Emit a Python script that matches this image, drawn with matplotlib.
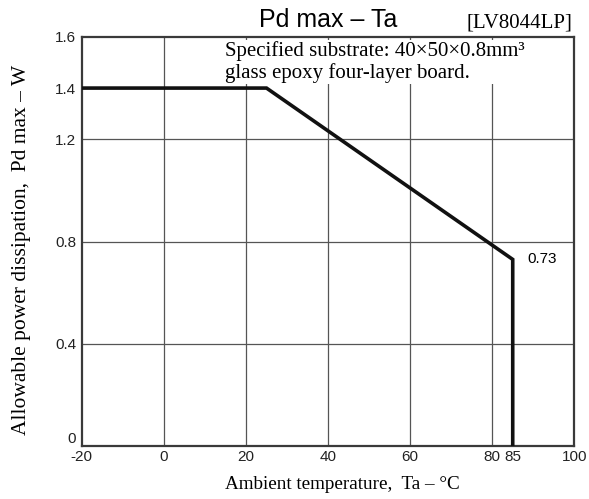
import numpy as np
import matplotlib
matplotlib.use('Agg')
import matplotlib.pyplot as plt

# derating curve
ta = [-20, 25, 85, 85]
pd_max = [1.4, 1.4, 0.73, 0.0]

x_ticks = [-20, 0, 20, 40, 60, 80, 85, 100]
x_tick_labels = ['-20', '0', '20', '40', '60', '80', '85', '100']
y_ticks = [0, 0.4, 0.8, 1.2, 1.4, 1.6]
y_tick_labels = ['0', '0.4', '0.8', '1.2', '1.4', '1.6']
x_grid = [0, 20, 40, 60, 80]
y_grid = [0.4, 0.8, 1.2]

sans = 'Liberation Sans'
serif = 'Liberation Serif'
frame_color = '#3a3a3a'

fig = plt.figure(figsize=(5.89, 4.99), dpi=100)
ax = fig.add_axes([0.139, 0.106, 0.836, 0.820])

for xg in x_grid:
    ax.axvline(xg, color='#555555', lw=0.9, zorder=1)
for yg in y_grid:
    ax.axhline(yg, color='#555555', lw=0.9, zorder=1)

ax.plot(ta, pd_max, color='#111111', lw=2.6, solid_joinstyle='miter', zorder=3)

ax.set_xlim(-20, 100)
ax.set_ylim(0, 1.6)
ax.set_xticks(x_ticks)
ax.set_xticklabels(x_tick_labels, family=sans, fontsize=11)
ax.set_yticks(y_ticks)
ax.set_yticklabels(y_tick_labels, family=sans, fontsize=11)
ax.tick_params(length=0, colors='#222222')
ax.tick_params(axis='x', pad=3)
ax.tick_params(axis='y', pad=4)
ax.get_yticklabels()[0].set_verticalalignment('bottom')

for sp in ax.spines.values():
    sp.set_color(frame_color)
    sp.set_linewidth(1.6)

ax.set_xlabel('Ambient temperature,  Ta – °C', family=serif, fontsize=13.8)
ax.xaxis.set_label_coords(0.53, -0.072)
ax.set_ylabel('Allowable power dissipation,  Pd max – W', family=serif, fontsize=15.5)
ax.yaxis.set_label_coords(-0.104, 0.48)

fig.text(0.558, 0.960, 'Pd max – Ta', family=sans, fontsize=18, ha='center', va='center')
fig.text(0.972, 0.954, '[LV8044LP]', family=serif, fontsize=15, ha='right', va='center')

ax.text(15, 1.582, 'Specified substrate: 40×50×0.8mm³\nglass epoxy four-layer board.',
        family=serif, fontsize=15, ha='left', va='top', linespacing=1.08,
        bbox=dict(facecolor='white', edgecolor='none', pad=1), zorder=2)

ax.text(ta[2] + 3.5, pd_max[2], '%.2f' % pd_max[2], family=sans, fontsize=11,
        ha='left', va='center')

fig.savefig('out.png', dpi=100)
